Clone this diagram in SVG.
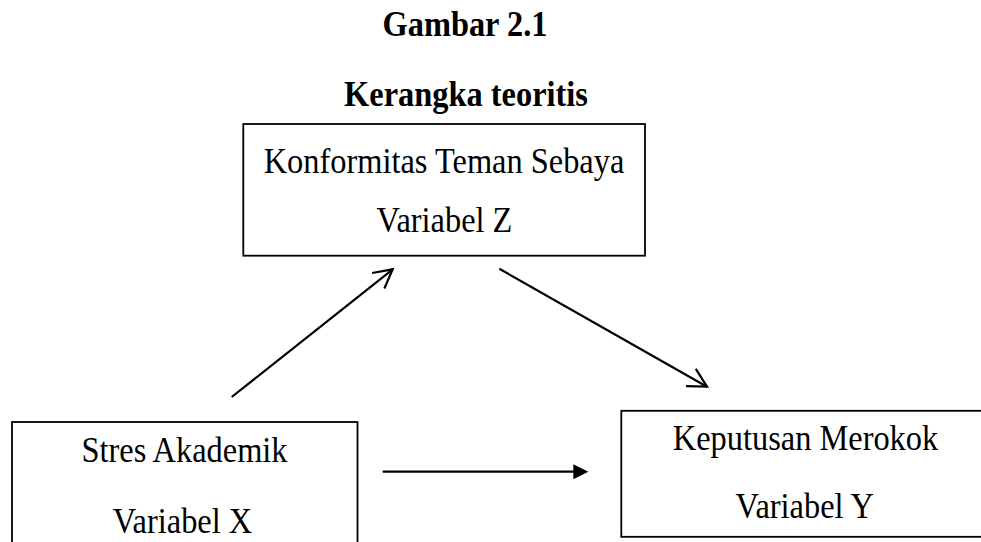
<svg xmlns="http://www.w3.org/2000/svg" width="981" height="542" viewBox="0 0 981 542">
<style>
.t{font-family:"Liberation Serif","Times New Roman",serif;font-size:32.4px;fill:#000;text-anchor:middle}
.b{font-weight:bold}
.box{fill:#fff;stroke:#000;stroke-width:1.8}
.c{stroke:#000;stroke-width:2.2;fill:none}
</style>
<defs>
<marker id="open" markerUnits="userSpaceOnUse" viewBox="-25 -15 30 30" markerWidth="30" markerHeight="30" refX="0" refY="0" orient="auto" overflow="visible">
<path d="M-18.5,-9.9 L0,0 L-18.5,9.9" fill="none" stroke="#000" stroke-width="2.2" stroke-linejoin="miter"/>
</marker>
</defs>
<g id="title">
<text class="t b" transform="translate(465,36) scale(1,1.08)">Gambar 2.1</text>
<text class="t b" transform="translate(466,106) scale(1,1.08)">Kerangka teoritis</text>
</g>
<g id="nodeZ">
<rect class="box" x="243.3" y="124" width="401.7" height="131.7"/>
<text class="t" transform="translate(444,173.3) scale(1,1.08)">Konformitas Teman Sebaya</text>
<text class="t" transform="translate(444.5,232.3) scale(1,1.08)">Variabel Z</text>
</g>
<g id="nodeX">
<rect class="box" x="12" y="422" width="345.5" height="140"/>
<text class="t" transform="translate(184.5,461.7) scale(1,1.08)">Stres Akademik</text>
<text class="t" transform="translate(182.5,533.3) scale(1,1.08)">Variabel X</text>
</g>
<g id="nodeY">
<rect class="box" x="621.3" y="410.8" width="380" height="126"/>
<text class="t" transform="translate(805.5,450) scale(1,1.08)">Keputusan Merokok</text>
<text class="t" transform="translate(804.7,518.3) scale(1,1.08)">Variabel Y</text>
</g>
<g id="connectors">
<line class="c" x1="231.7" y1="397" x2="392.7" y2="269.3" marker-end="url(#open)"/>
<line class="c" x1="499.3" y1="268.7" x2="707" y2="386.7" marker-end="url(#open)"/>
<line class="c" x1="382.7" y1="471.7" x2="578" y2="471.7"/>
<path d="M573.3,464.2 L588.3,471.7 L573.3,479.2 Z" fill="#000"/>
</g>
</svg>
